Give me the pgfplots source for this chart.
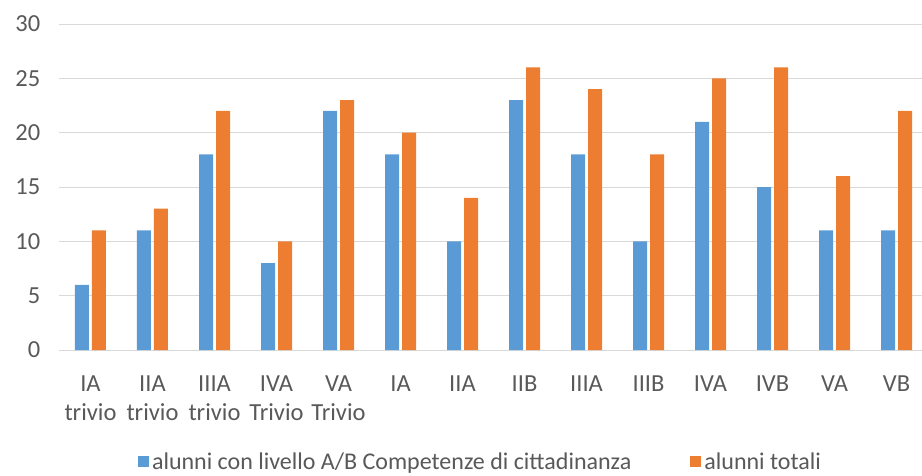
\documentclass[border=0pt]{standalone}
\usepackage{fontspec}
\setmainfont{Carlito}
\usepackage{pgfplots}
\pgfplotsset{compat=1.18}
\definecolor{cblue}{HTML}{5B9BD5}
\definecolor{corange}{HTML}{ED7D31}
\definecolor{tgray}{HTML}{595959}
\definecolor{ggray}{HTML}{D9D9D9}
\begin{document}
\begin{tikzpicture}
\begin{axis}[
  at={(0pt,0pt)}, anchor=south west,
  scale only axis, width=868pt, height=326pt,
  xmin=-0.5, xmax=13.5, ymin=0, ymax=30,
  ybar=3pt, bar width=14pt,
  xtick={0,...,13},
  xticklabels={{IA\\trivio},{IIA\\trivio},{IIIA\\trivio},{IVA\\Trivio},{VA\\Trivio},IA,IIA,IIB,IIIA,IIIB,IVA,IVB,VA,VB},
  ytick={0,5,...,30},
  ymajorgrids, grid style={ggray, line width=1pt},
  axis line style={draw=none},
  major tick length=0pt,
  /pgf/number format/assume math mode=true,
  tick label style={font=\fontsize{24.5}{29}\selectfont, text=tgray, inner sep=0pt},
  xticklabel style={align=center, anchor=north, yshift=-26pt},
  yticklabel style={anchor=east, xshift=-19pt},
  legend columns=2,
  legend style={draw=none, at={(0.485,-0.343)}, anchor=center,
    font=\fontsize{24}{26}\selectfont, text=tgray,
    /tikz/every even column/.append style={column sep=57pt}},
  legend image code/.code={\fill[#1] (-4pt,-5pt) rectangle (7pt,6pt); \path (-4pt,0pt) -- (8pt,0pt);},
]
\addplot[fill=cblue, draw=none] coordinates {(0,6) (1,11) (2,18) (3,8) (4,22) (5,18) (6,10) (7,23) (8,18) (9,10) (10,21) (11,15) (12,11) (13,11)};
\addplot[fill=corange, draw=none] coordinates {(0,11) (1,13) (2,22) (3,10) (4,23) (5,20) (6,14) (7,26) (8,24) (9,18) (10,25) (11,26) (12,16) (13,22)};
\legend{alunni con livello A/B Competenze di cittadinanza, alunni totali}
\end{axis}
\pgfresetboundingbox
\path[use as bounding box] (-59.5pt,-125pt) rectangle (862.5pt,350pt);
\end{tikzpicture}
\end{document}
